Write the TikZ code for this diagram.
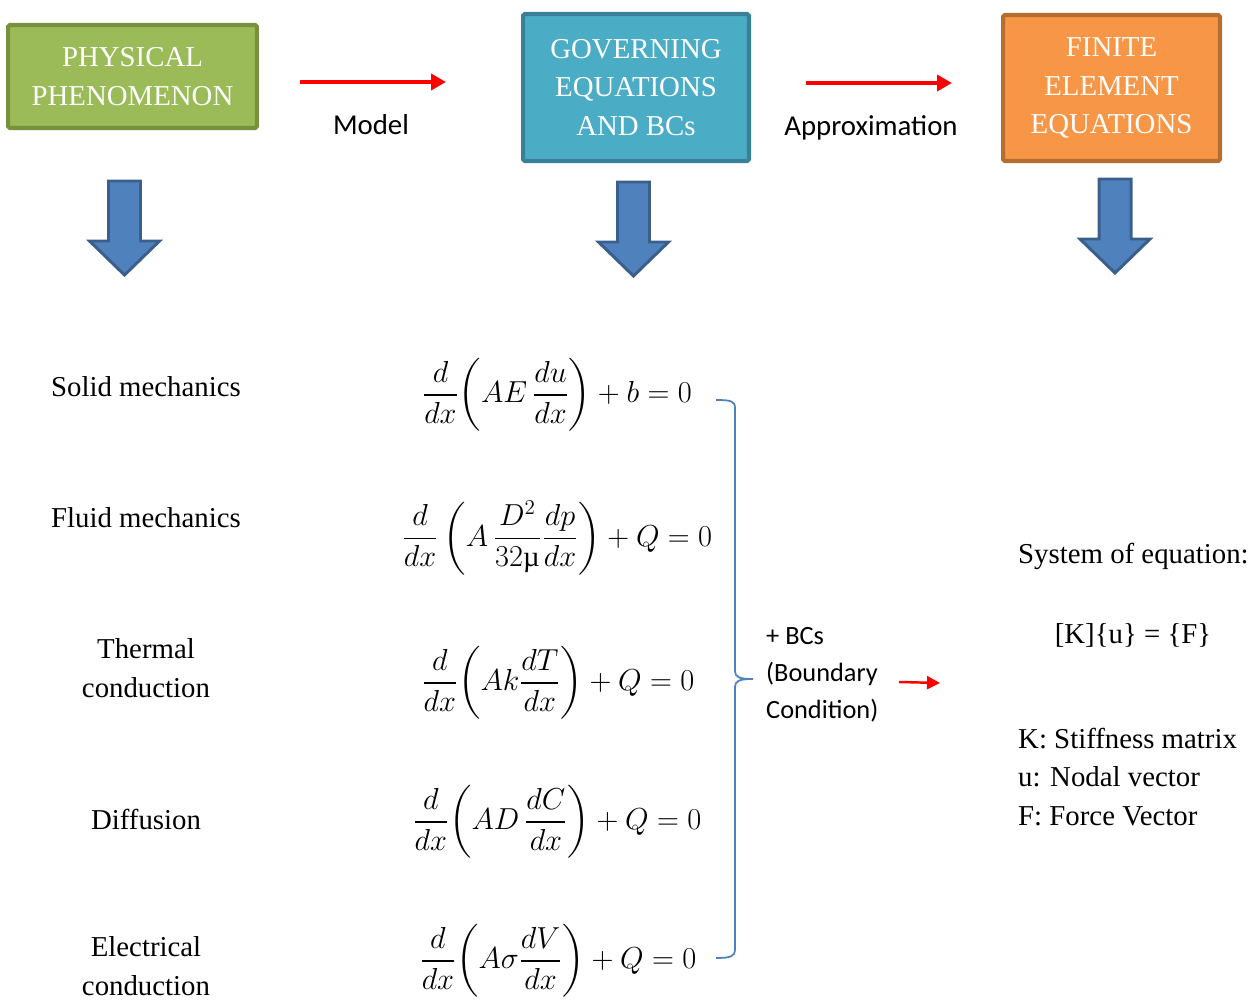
\documentclass[tikz,border=0pt]{standalone}
\usepackage{amsmath}
\usepackage{fontspec}
\setmainfont{Liberation Serif}
\newfontfamily\calibri{Carlito}
\usetikzlibrary{arrows.meta, positioning}

\definecolor{physfill}{HTML}{9BBB59}
\definecolor{physline}{HTML}{77923C}
\definecolor{govfill}{HTML}{4BACC6}
\definecolor{govline}{HTML}{3A8096}
\definecolor{finfill}{HTML}{F79646}
\definecolor{finline}{HTML}{B66D31}
\definecolor{blockfill}{HTML}{4F81BD}
\definecolor{blockline}{HTML}{3A5F8B}

\tikzset{
  headbox/.style={draw, line width=2.3pt, rounded corners=1pt, text=white, align=center,
    font=\fontsize{16.4}{22}\selectfont},
  plain/.style={align=center, font=\fontsize{16.4}{22}\selectfont},
  sans/.style={align=left, font=\calibri\fontsize{16.4}{21}\selectfont},
  eqn/.style={font=\fontsize{16.4}{20}\selectfont},
  redarrow/.style={red, line width=2.2pt, -{Triangle[length=0.3cm,width=0.32cm]}},
  downblock/.pic={
    \draw[blockline, fill=blockfill, line width=1.7pt, line join=miter]
      (-16,0) -- (16,0) -- (16,60) -- (35,60) -- (0,94) -- (-35,60) -- (-16,60) -- cycle;
  }
}

\begin{document}
\begin{tikzpicture}[x=0.02cm, y=-0.02cm]
  \useasboundingbox (0,0) rectangle (1259,1001);

  % Three heading boxes
  \node[headbox, fill=physfill, draw=physline, minimum width=4.98cm, minimum height=2.06cm]
    (phys) at (132.5,76.5) {PHYSICAL\\PHENOMENON};
  \node[headbox, fill=govfill, draw=govline, minimum width=4.52cm, minimum height=2.94cm]
    (gov) at (636,87.5) {GOVERNING\\EQUATIONS\\AND BCs};
  \node[headbox, fill=finfill, draw=finline, minimum width=4.34cm, minimum height=2.92cm]
    (fin) at (1111.5,88) {FINITE\\ELEMENT\\EQUATIONS};

  % Red arrows between the boxes
  \coordinate (m1) at (300,82);
  \coordinate (m2) at (446,82);
  \coordinate (a1) at (806,83);
  \coordinate (a2) at (952,83);
  \draw[redarrow] (m1) -- (m2);
  \draw[redarrow] (a1) -- (a2);
  \node[sans] (model) at (371,125) {Model};
  \node[sans] (approx) at (871,128) {Approximation};

  % Block arrows pointing down
  \pic at (124.5,181) {downblock};
  \pic at (633.5,182) {downblock};
  \pic at (1115,179) {downblock};

  % Physical problems
  \node[plain] (solid) at (146,387) {Solid mechanics};
  \node[plain] (fluid) at (146,518) {Fluid mechanics};
  \node[plain] (thermal) at (146,668) {Thermal\\conduction};
  \node[plain] (diff) at (146,819) {Diffusion};
  \node[plain] (elec) at (146,966) {Electrical\\conduction};

  % Governing equations
  \node[eqn] (eqsolid) at (557,395) {$\displaystyle \frac{d}{dx}\biggl(AE\,\frac{du}{dx}\biggr)+b=0$};
  \node[eqn] (eqfluid) at (557,538) {$\displaystyle \frac{d}{dx}\left(A\,\frac{D^2}{32\mbox{µ}}\frac{dp}{dx}\right)+Q=0$};
  \node[eqn] (eqtherm) at (558,683) {$\displaystyle \frac{d}{dx}\biggl(Ak\frac{dT}{dx}\biggr)+Q=0$};
  \node[eqn] (eqdiff) at (557,822) {$\displaystyle \frac{d}{dx}\biggl(AD\,\frac{dC}{dx}\biggr)+Q=0$};
  \node[eqn] (eqelec) at (558,961) {$\displaystyle \frac{d}{dx}\biggl(A\sigma\frac{dV}{dx}\biggr)+Q=0$};

  % Brace around the equations
  \draw[blockfill, line width=1pt]
    (716,400) .. controls (731,400) and (735,401) .. (735,408) -- (735,671)
    .. controls (735,677) and (739,679) .. (753,679)
    .. controls (739,679) and (735,681) .. (735,687) -- (735,950)
    .. controls (735,956) and (731,958) .. (716,958);
  \node[sans, font=\calibri\fontsize{15}{21}\selectfont, anchor=west] (bcs) at (760,675)
    {+ BCs\\(Boundary\\Condition)};
  \coordinate (b1) at (899,682);
  \coordinate (b2) at (940,683);
  \draw[red, line width=1.4pt, -{Triangle[length=0.26cm,width=0.26cm]}] (b1) -- (b2);

  % System of equations
  \node[plain, anchor=west] (sys) at (1012,556) {System of equation:};
  \node[plain] (kuf) at (1133,635) {[K]\{u\} = \{F\}};
  \node[plain, align=left, anchor=west] (legend) at (1012,777)
    {K: Stiffness matrix\\u: Nodal vector\\F: Force Vector};
\end{tikzpicture}
\end{document}
